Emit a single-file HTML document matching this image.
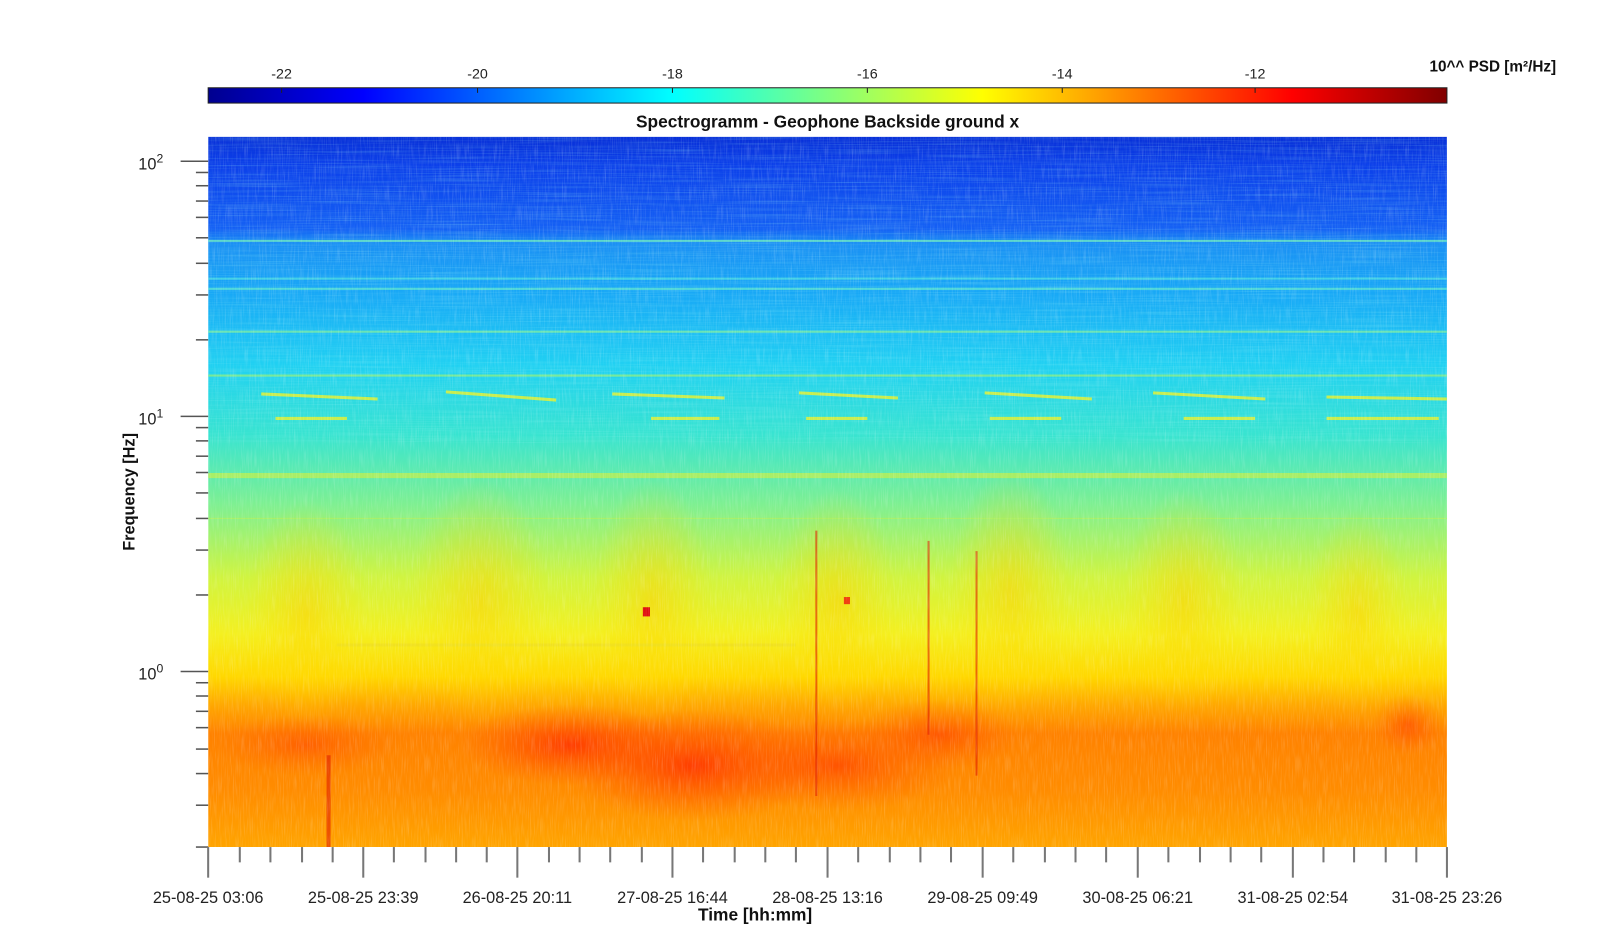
<!DOCTYPE html>
<html><head><meta charset="utf-8"><style>
html,body{margin:0;padding:0;background:#fff;}
svg{display:block;font-family:"Liberation Sans",Arial,sans-serif;}
</style></head><body>
<svg width="1600" height="944" viewBox="0 0 1568 925" preserveAspectRatio="none" xmlns="http://www.w3.org/2000/svg">
<defs>
<linearGradient id="jet" x1="0" y1="0" x2="1" y2="0">
<stop offset="0" stop-color="#00008f"/>
<stop offset="0.125" stop-color="#0000ff"/>
<stop offset="0.375" stop-color="#00ffff"/>
<stop offset="0.625" stop-color="#ffff00"/>
<stop offset="0.875" stop-color="#ff0000"/>
<stop offset="1" stop-color="#800000"/>
</linearGradient>
<linearGradient id="spec" x1="0" y1="0" x2="0" y2="1">
<stop offset="0" stop-color="#0830d8"/>
<stop offset="0.04" stop-color="#0c40ea"/>
<stop offset="0.13" stop-color="#1460f4"/>
<stop offset="0.15" stop-color="#1a90f4"/>
<stop offset="0.22" stop-color="#18a8f6"/>
<stop offset="0.32" stop-color="#20d0f2"/>
<stop offset="0.42" stop-color="#38e4d0"/>
<stop offset="0.52" stop-color="#80f090"/>
<stop offset="0.62" stop-color="#d0f440"/>
<stop offset="0.70" stop-color="#f4f020"/>
<stop offset="0.76" stop-color="#ffd800"/>
<stop offset="0.80" stop-color="#ffa800"/>
<stop offset="0.84" stop-color="#ff8200"/>
<stop offset="0.92" stop-color="#ff8c00"/>
<stop offset="1" stop-color="#ffa400"/>
</linearGradient>
<radialGradient id="red" cx="0.5" cy="0.5" r="0.5">
<stop offset="0" stop-color="#ff2a00" stop-opacity="0.8"/>
<stop offset="1" stop-color="#ff5000" stop-opacity="0"/>
</radialGradient>
<radialGradient id="yel" cx="0.5" cy="0.5" r="0.5">
<stop offset="0" stop-color="#ffd000" stop-opacity="0.55"/>
<stop offset="1" stop-color="#ffe000" stop-opacity="0"/>
</radialGradient>
<filter id="noise" x="0" y="0" width="1" height="1">
<feTurbulence type="fractalNoise" baseFrequency="0.9 0.05" numOctaves="2" seed="3"/>
<feColorMatrix type="matrix" values="0 0 0 0 1  0 0 0 0 1  0 0 0 0 1  0 0 0 1.2 -0.55"/>
</filter>
<filter id="hnoise" x="0" y="0" width="1" height="1">
<feTurbulence type="fractalNoise" baseFrequency="0.01 0.8" numOctaves="2" seed="7"/>
<feColorMatrix type="matrix" values="0 0 0 0 0.3  0 0 0 0 0.9  0 0 0 0 0.9  0 0 0 1.4 -0.6"/>
</filter>
<clipPath id="pc"><rect x="204" y="134" width="1214" height="696"/></clipPath>
</defs>

<rect x="204" y="86" width="1214" height="15" fill="url(#jet)" stroke="#222" stroke-width="1"/>
<g stroke="#222" stroke-width="1">
<line x1="276" y1="86" x2="276" y2="91"/><line x1="468" y1="86" x2="468" y2="91"/>
<line x1="659" y1="86" x2="659" y2="91"/><line x1="850" y1="86" x2="850" y2="91"/>
<line x1="1041" y1="86" x2="1041" y2="91"/><line x1="1230" y1="86" x2="1230" y2="91"/>
</g>
<g font-size="14" fill="#222" text-anchor="middle">
<text x="276" y="77">-22</text><text x="468" y="77">-20</text><text x="659" y="77">-18</text>
<text x="850" y="77">-16</text><text x="1041" y="77">-14</text><text x="1230" y="77">-12</text>
</g>
<text x="1525" y="70" font-size="15" font-weight="bold" text-anchor="end" fill="#111">10^^ PSD [m²/Hz]</text>
<text x="811" y="125" font-size="17" font-weight="bold" text-anchor="middle" fill="#111">Spectrogramm - Geophone Backside ground x</text>

<g clip-path="url(#pc)">
<rect x="204" y="134" width="1214" height="696" fill="url(#spec)"/>
<rect x="204" y="134" width="1214" height="300" filter="url(#hnoise)" opacity="0.35"/>
<ellipse cx="560" cy="730" rx="110" ry="40" fill="url(#red)"/>
<ellipse cx="680" cy="750" rx="130" ry="55" fill="url(#red)"/>
<ellipse cx="820" cy="750" rx="120" ry="45" fill="url(#red)" opacity="0.7"/>
<ellipse cx="920" cy="720" rx="80" ry="35" fill="url(#red)" opacity="0.6"/>
<ellipse cx="300" cy="730" rx="90" ry="30" fill="url(#red)" opacity="0.5"/>
<ellipse cx="1380" cy="710" rx="35" ry="30" fill="url(#red)" opacity="0.6"/>
<ellipse cx="300" cy="600" rx="60" ry="110" fill="url(#yel)"/>
<ellipse cx="470" cy="590" rx="70" ry="120" fill="url(#yel)"/>
<ellipse cx="640" cy="590" rx="60" ry="120" fill="url(#yel)"/>
<ellipse cx="820" cy="590" rx="60" ry="110" fill="url(#yel)"/>
<ellipse cx="990" cy="580" rx="60" ry="120" fill="url(#yel)"/>
<ellipse cx="1160" cy="590" rx="60" ry="110" fill="url(#yel)"/>
<ellipse cx="1330" cy="600" rx="50" ry="100" fill="url(#yel)"/>
<g stroke-width="2" opacity="0.75">
<line x1="204" y1="236" x2="1418" y2="236" stroke="#70f0c0"/>
<line x1="204" y1="273" x2="1418" y2="273" stroke="#50e0e0"/>
<line x1="204" y1="283" x2="1418" y2="283" stroke="#60e8d0"/>
<line x1="204" y1="325" x2="1418" y2="325" stroke="#80f0a0"/>
<line x1="204" y1="368" x2="1418" y2="368" stroke="#90f080"/>
<line x1="204" y1="466" x2="1418" y2="466" stroke="#c0f050" stroke-width="5"/>
<line x1="204" y1="508" x2="1418" y2="508" stroke="#b0f060" stroke-width="1"/>
<line x1="330" y1="632" x2="780" y2="632" stroke="#f0e020" stroke-width="3"/>
</g>
<g stroke="#d8f040" stroke-width="3" opacity="0.9">
<line x1="256" y1="386" x2="370" y2="391"/><line x1="437" y1="384" x2="545" y2="392"/>
<line x1="600" y1="386" x2="710" y2="390"/><line x1="783" y1="385" x2="880" y2="390"/>
<line x1="965" y1="385" x2="1070" y2="391"/><line x1="1130" y1="385" x2="1240" y2="391"/>
<line x1="1300" y1="389" x2="1418" y2="391"/>
<line x1="270" y1="410" x2="340" y2="410"/><line x1="638" y1="410" x2="705" y2="410"/>
<line x1="790" y1="410" x2="850" y2="410"/><line x1="970" y1="410" x2="1040" y2="410"/>
<line x1="1160" y1="410" x2="1230" y2="410"/><line x1="1300" y1="410" x2="1410" y2="410"/>
</g>
<g stroke="#e02000" stroke-width="2" opacity="0.6">
<line x1="322" y1="740" x2="322" y2="830" stroke-width="4"/>
<line x1="800" y1="520" x2="800" y2="780"/>
<line x1="910" y1="530" x2="910" y2="720"/>
<line x1="957" y1="540" x2="957" y2="760"/>
</g>
<rect x="630" y="595" width="7" height="9" fill="#e01010"/>
<rect x="827" y="585" width="6" height="7" fill="#f04010"/>
<rect x="204" y="134" width="1214" height="696" filter="url(#noise)" opacity="0.35"/>
</g>

<g stroke="#555" stroke-width="1.5">
<line x1="177" y1="158" x2="204" y2="158"/><line x1="177" y1="408" x2="204" y2="408"/><line x1="177" y1="658" x2="204" y2="658"/>
<line x1="192" y1="789" x2="204" y2="789"/><line x1="192" y1="758" x2="204" y2="758"/><line x1="192" y1="734" x2="204" y2="734"/>
<line x1="192" y1="713" x2="204" y2="713"/><line x1="192" y1="697" x2="204" y2="697"/><line x1="192" y1="682" x2="204" y2="682"/>
<line x1="192" y1="669" x2="204" y2="669"/><line x1="192" y1="830" x2="204" y2="830"/>
<line x1="192" y1="583" x2="204" y2="583"/><line x1="192" y1="539" x2="204" y2="539"/><line x1="192" y1="508" x2="204" y2="508"/>
<line x1="192" y1="483" x2="204" y2="483"/><line x1="192" y1="463" x2="204" y2="463"/><line x1="192" y1="447" x2="204" y2="447"/>
<line x1="192" y1="432" x2="204" y2="432"/><line x1="192" y1="419" x2="204" y2="419"/>
<line x1="192" y1="333" x2="204" y2="333"/><line x1="192" y1="289" x2="204" y2="289"/><line x1="192" y1="258" x2="204" y2="258"/>
<line x1="192" y1="233" x2="204" y2="233"/><line x1="192" y1="213" x2="204" y2="213"/><line x1="192" y1="197" x2="204" y2="197"/>
<line x1="192" y1="182" x2="204" y2="182"/><line x1="192" y1="169" x2="204" y2="169"/>
</g>
<g font-size="16" fill="#222" text-anchor="end">
<text x="160" y="166">10<tspan dy="-7" font-size="12">2</tspan></text>
<text x="160" y="416">10<tspan dy="-7" font-size="12">1</tspan></text>
<text x="160" y="666">10<tspan dy="-7" font-size="12">0</tspan></text>
</g>
<text transform="translate(132,482) rotate(-90)" font-size="16" font-weight="bold" text-anchor="middle" fill="#111">Frequency [Hz]</text>

<g stroke="#777" stroke-width="2">
<line x1="204" y1="830" x2="204" y2="860"/><line x1="356" y1="830" x2="356" y2="860"/>
<line x1="507" y1="830" x2="507" y2="860"/><line x1="659" y1="830" x2="659" y2="860"/>
<line x1="811" y1="830" x2="811" y2="860"/><line x1="963" y1="830" x2="963" y2="860"/>
<line x1="1115" y1="830" x2="1115" y2="860"/><line x1="1267" y1="830" x2="1267" y2="860"/>
<line x1="1418" y1="830" x2="1418" y2="860"/>
</g>
<g stroke="#777" stroke-width="2">
<line x1="235" y1="830" x2="235" y2="845"/><line x1="265" y1="830" x2="265" y2="845"/><line x1="296" y1="830" x2="296" y2="845"/><line x1="326" y1="830" x2="326" y2="845"/>
<line x1="386" y1="830" x2="386" y2="845"/><line x1="417" y1="830" x2="417" y2="845"/><line x1="447" y1="830" x2="447" y2="845"/><line x1="477" y1="830" x2="477" y2="845"/>
<line x1="538" y1="830" x2="538" y2="845"/><line x1="568" y1="830" x2="568" y2="845"/><line x1="598" y1="830" x2="598" y2="845"/><line x1="629" y1="830" x2="629" y2="845"/>
<line x1="689" y1="830" x2="689" y2="845"/><line x1="720" y1="830" x2="720" y2="845"/><line x1="750" y1="830" x2="750" y2="845"/><line x1="780" y1="830" x2="780" y2="845"/>
<line x1="841" y1="830" x2="841" y2="845"/><line x1="872" y1="830" x2="872" y2="845"/><line x1="902" y1="830" x2="902" y2="845"/><line x1="932" y1="830" x2="932" y2="845"/>
<line x1="993" y1="830" x2="993" y2="845"/><line x1="1024" y1="830" x2="1024" y2="845"/><line x1="1054" y1="830" x2="1054" y2="845"/><line x1="1084" y1="830" x2="1084" y2="845"/>
<line x1="1145" y1="830" x2="1145" y2="845"/><line x1="1176" y1="830" x2="1176" y2="845"/><line x1="1206" y1="830" x2="1206" y2="845"/><line x1="1236" y1="830" x2="1236" y2="845"/>
<line x1="1297" y1="830" x2="1297" y2="845"/><line x1="1327" y1="830" x2="1327" y2="845"/><line x1="1358" y1="830" x2="1358" y2="845"/><line x1="1388" y1="830" x2="1388" y2="845"/>
</g>
<g font-size="16" fill="#222" text-anchor="middle">
<text x="204" y="885">25-08-25 03:06</text><text x="356" y="885">25-08-25 23:39</text>
<text x="507" y="885">26-08-25 20:11</text><text x="659" y="885">27-08-25 16:44</text>
<text x="811" y="885">28-08-25 13:16</text><text x="963" y="885">29-08-25 09:49</text>
<text x="1115" y="885">30-08-25 06:21</text><text x="1267" y="885">31-08-25 02:54</text>
<text x="1418" y="885">31-08-25 23:26</text>
</g>
<text x="740" y="902" font-size="17" font-weight="bold" text-anchor="middle" fill="#111">Time [hh:mm]</text>
</svg>
</body></html>
